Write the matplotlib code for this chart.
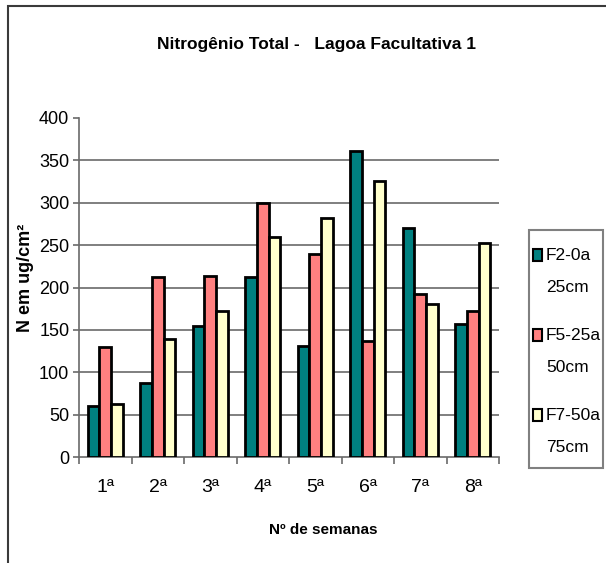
import matplotlib
matplotlib.use("Agg")
import matplotlib.pyplot as plt
from matplotlib.patches import Rectangle
import numpy as np

# Data: total nitrogen per week at three depths
weeks = ["1ª", "2ª", "3ª", "4ª", "5ª", "6ª", "7ª", "8ª"]
series_names = ["F2-0a\n25cm", "F5-25a\n50cm", "F7-50a\n75cm"]
f2_0_25 = [60, 87, 154, 212, 131, 361, 270, 157]
f5_25_50 = [130, 212, 214, 300, 239, 137, 192, 172]
f7_50_75 = [62, 139, 172, 259, 282, 326, 181, 252]
y_ticks = [0, 50, 100, 150, 200, 250, 300, 350, 400]

series = [f2_0_25, f5_25_50, f7_50_75]
colors = ["#008080", "#FF8080", "#FFFFCC"]

plt.rcParams["font.family"] = ["Liberation Sans", "DejaVu Sans"]

W, H = 606, 563
fig = plt.figure(figsize=(W / 100, H / 100), dpi=100)


def fx(px):
    return px / W


def fy(py):
    return 1 - py / H


# outer chart frame (only top and left edges fall inside the image)
fig.add_artist(Rectangle((fx(8.3), fy(640)), fx(700), fy(5.7) - fy(640),
                         transform=fig.transFigure, fill=False,
                         edgecolor="#3a3a3a", linewidth=1.5))

ax = fig.add_axes([fx(79), fy(457), fx(499) - fx(79), fy(118) - fy(457)])

x = np.arange(len(weeks))
bw = 0.222
for i, (vals, c) in enumerate(zip(series, colors)):
    ax.bar(x + (i - 1) * bw, vals, bw, color=c, edgecolor="black",
           linewidth=2.0, zorder=3)

ax.set_xlim(-0.5, len(weeks) - 0.5)
ax.set_ylim(0, 400)
ax.set_yticks(y_ticks)
ax.set_yticklabels([str(v) for v in y_ticks], fontsize=13)
for yv in y_ticks[1:-1]:
    ax.axhline(yv, color="#6a6a6a", linewidth=1.2, zorder=1)

ax.set_xticks(x)
ax.set_xticklabels(weeks, fontsize=14)
ax.set_xticks(np.arange(-0.5, len(weeks)), minor=True)
ax.tick_params(axis="x", which="major", length=0, pad=16)
ax.tick_params(axis="x", which="minor", length=5, width=1.2, color="#6a6a6a",
               direction="out")
ax.tick_params(axis="y", length=4, width=1.2, color="#6a6a6a", pad=3)

for s in ("top", "right"):
    ax.spines[s].set_visible(False)
for s in ("left", "bottom"):
    ax.spines[s].set_color("#6a6a6a")
    ax.spines[s].set_linewidth(1.2)

# titles
fig.text(fx(317), fy(44), "Nitrogênio Total -   Lagoa Facultativa 1",
         ha="center", va="center", fontweight="bold", fontsize=12.5)
fig.text(fx(25), fy(278), "N em ug/cm²", rotation=90, ha="center",
         va="center", fontweight="bold", fontsize=13)
fig.text(fx(323), fy(530), "Nº de semanas", ha="center", va="center",
         fontweight="bold", fontsize=11)

# legend box
fig.add_artist(Rectangle((fx(529), fy(468)), fx(603) - fx(529),
                         fy(230) - fy(468), transform=fig.transFigure,
                         fill=False, edgecolor="#808080", linewidth=1.5))
for k, (name, c) in enumerate(zip(series_names, colors)):
    y1 = 255 + 80 * k
    fig.add_artist(Rectangle((fx(533), fy(y1 + 6)), fx(9), fy(0) - fy(12),
                             transform=fig.transFigure, facecolor=c,
                             edgecolor="black", linewidth=1.5))
    for j, line in enumerate(name.split("\n")):
        fig.text(fx(546), fy(y1 + 33 * j), line, ha="left", va="center",
                 fontsize=12.5)

fig.savefig("out.png", dpi=100)
